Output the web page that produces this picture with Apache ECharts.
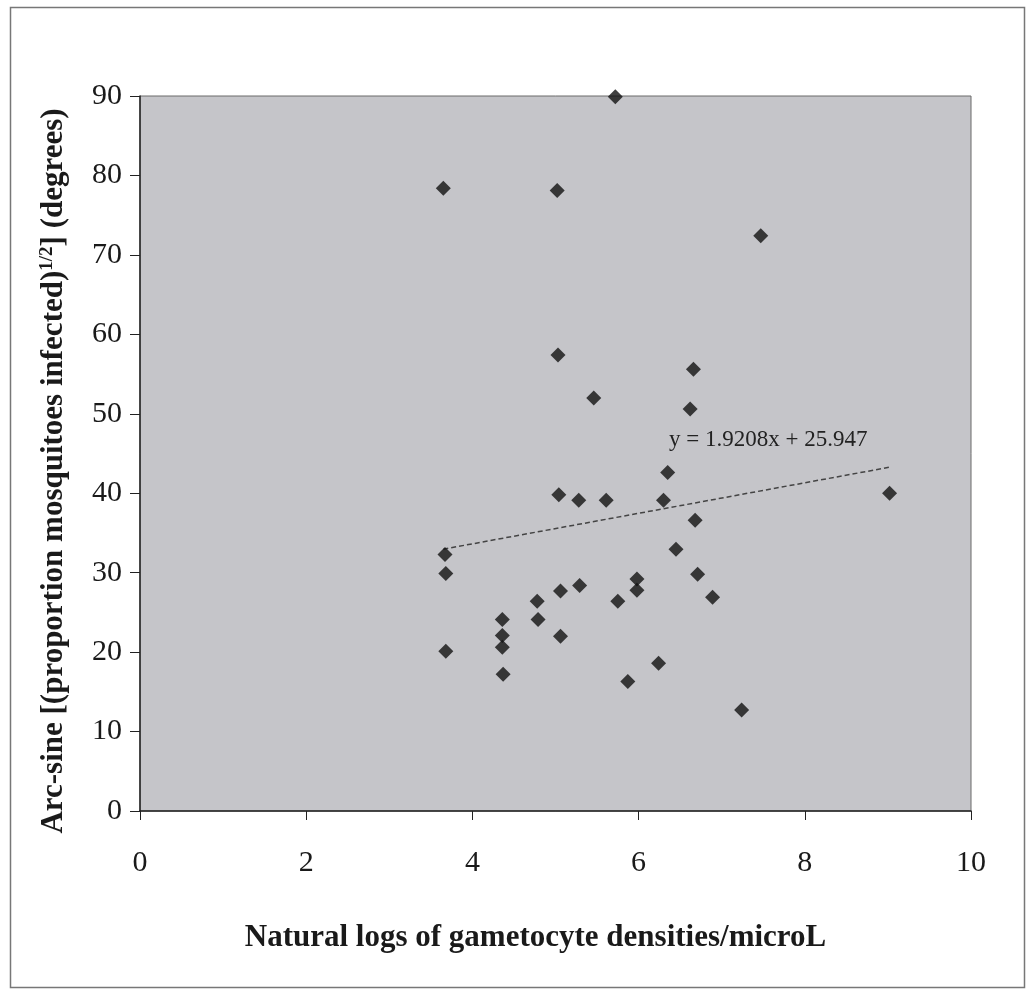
<!DOCTYPE html>
<html>
<head>
<meta charset="utf-8">
<script src="https://cdn.jsdelivr.net/npm/echarts@6/dist/echarts.min.js"></script>
<style>
html,body{margin:0;padding:0;background:#fff;}
#chart{width:1029px;height:989px;}
</style>
</head>
<body>
<div id="chart"></div>
<script>
// Natural log of gametocyte density (x) and arc-sine transformed infection (y)
const lnDensity = [5.72, 3.65, 5.02, 7.47, 5.03, 6.66, 5.46, 6.62, 6.35, 9.02, 5.04, 5.28,
  5.61, 6.30, 6.68, 3.67, 6.45, 3.68, 6.71, 5.98, 5.29, 5.98, 5.06, 6.89,
  4.78, 5.75, 4.36, 4.79, 4.36, 5.06, 4.36, 3.68, 6.24, 4.37, 5.87, 7.24];
const arcsineInfected = [89.9, 78.4, 78.1, 72.4, 57.4, 55.6, 52.0, 50.6, 42.6, 40.0, 39.8, 39.1,
  39.1, 39.1, 36.6, 32.3, 32.95, 29.9, 29.8, 29.2, 28.4, 27.8, 27.7, 26.9,
  26.4, 26.4, 24.1, 24.1, 22.1, 22.0, 20.6, 20.1, 18.6, 17.2, 16.3, 12.7];
const trendSlope = 1.9208;
const trendIntercept = 25.947;
const trendLabel = 'y = 1.9208x + 25.947';
const xTitle = 'Natural logs of gametocyte densities/microL';
const yTitleParts = ['Arc-sine [(proportion mosquitoes infected)', '1/2', '] (degrees)'];
const xTicks = [0, 2, 4, 6, 8, 10];
const yTicks = [0, 10, 20, 30, 40, 50, 60, 70, 80, 90];

const points = lnDensity.map((x, i) => [x, arcsineInfected[i]]);
const xMin = Math.min(...lnDensity), xMax = Math.max(...lnDensity);
const trend = [[xMin, trendSlope * xMin + trendIntercept], [xMax, trendSlope * xMax + trendIntercept]];

const serif = '"Liberation Serif", "DejaVu Serif", serif';
const chart = echarts.init(document.getElementById('chart'));
chart.setOption({
  animation: false,
  backgroundColor: '#ffffff',
  grid: {
    left: 140, right: 58, top: 96, bottom: 178,
    show: true, backgroundColor: '#c5c5c9', borderColor: '#6a6a6a', borderWidth: 1
  },
  xAxis: {
    type: 'value', min: xTicks[0], max: xTicks[xTicks.length - 1], interval: 2,
    splitLine: { show: false },
    axisLine: { lineStyle: { color: '#222', width: 1.5 } },
    axisTick: { inside: false, length: 9, lineStyle: { color: '#222' } },
    axisLabel: { color: '#1a1a1a', fontFamily: serif, fontSize: 30, margin: 37 },
    name: xTitle,
    nameLocation: 'middle', nameGap: 111,
    nameTextStyle: { color: '#1a1a1a', fontFamily: serif, fontSize: 31, fontWeight: 'bold', padding: [0, 40, 0, 0] }
  },
  yAxis: {
    type: 'value', min: yTicks[0], max: yTicks[yTicks.length - 1], interval: 10,
    splitLine: { show: false },
    axisLine: { show: true, lineStyle: { color: '#222', width: 1.5 } },
    axisTick: { show: true, inside: false, length: 10, lineStyle: { color: '#222' } },
    axisLabel: { color: '#1a1a1a', fontFamily: serif, fontSize: 30, margin: 18 }
  },
  series: [
    {
      type: 'scatter', data: points, symbol: 'diamond', symbolSize: 15,
      itemStyle: { color: '#111' }, z: 3
    },
    {
      type: 'line', data: trend, showSymbol: false, symbol: 'none',
      lineStyle: { color: '#444', width: 1.5, type: [5, 3] }, z: 2
    }
  ],
  graphic: [
    { type: 'rect', left: 8, top: 5, shape: { width: 1014, height: 980 },
      style: { fill: 'none', stroke: '#777', lineWidth: 1.5 }, silent: true },
    { type: 'text', x: 54, y: 471, rotation: Math.PI / 2,
      style: {
        text: '{t|' + yTitleParts[0] + '}{s|' + yTitleParts[1] + '}{t|' + yTitleParts[2] + '}',
        align: 'center', verticalAlign: 'middle',
        rich: {
          t: { fontFamily: serif, fontSize: 31, fontWeight: 'bold', fill: '#1a1a1a' },
          s: { fontFamily: serif, fontSize: 19, fontWeight: 'bold', fill: '#1a1a1a', verticalAlign: 'top', padding: [0, 0, 14, 0] }
        }
      } },
    { type: 'text', left: 669, top: 428,
      style: { text: trendLabel, font: '23px "Liberation Serif", serif', fill: '#222' } }
  ]
});
</script>
</body>
</html>
